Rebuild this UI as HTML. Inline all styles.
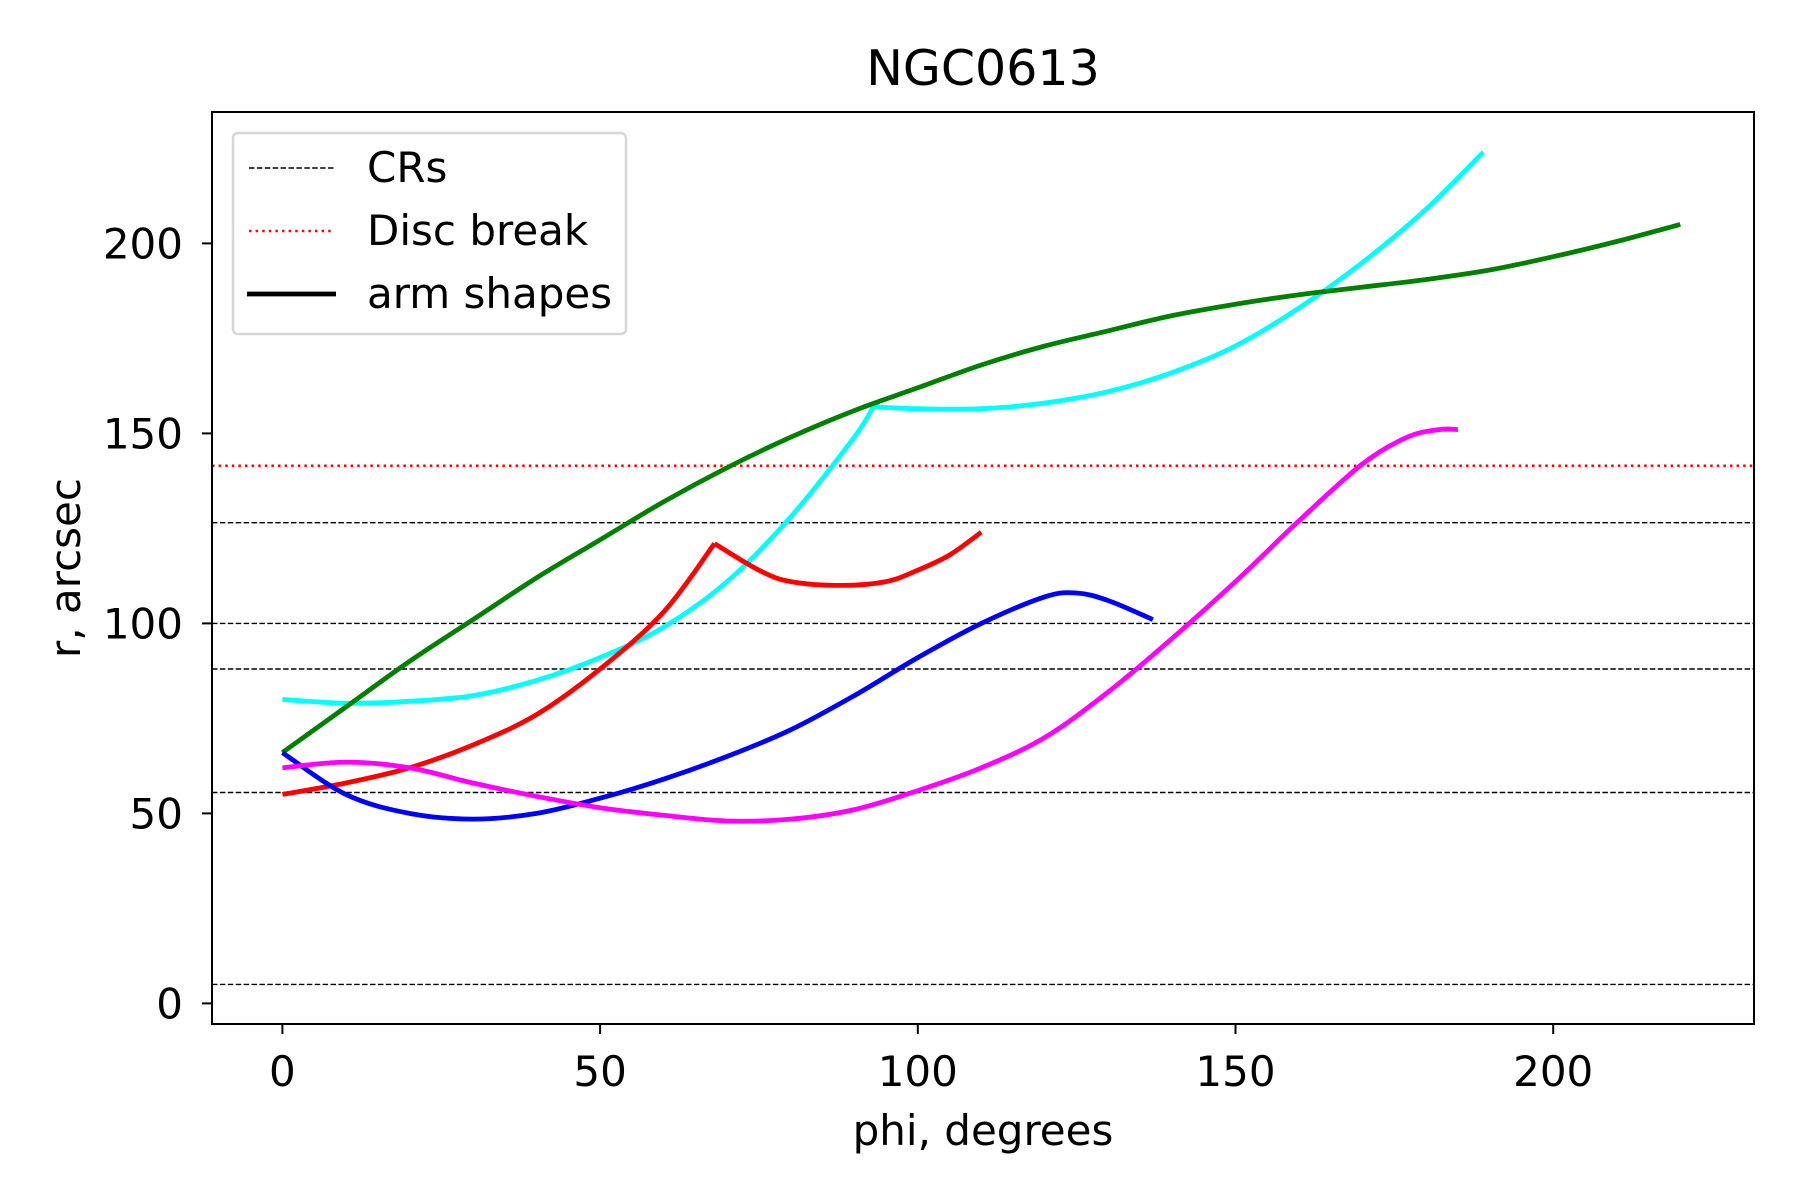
<!DOCTYPE html>
<html><head><meta charset="utf-8"><style>
body{margin:0;background:#fff;}
svg text{font-family:"DejaVu Sans","Liberation Sans",sans-serif;fill:#000;}
</style></head><body>
<svg id="chart" width="1800" height="1200" viewBox="0 0 1800 1200" style="position:absolute;left:0;top:0">
<rect width="1800" height="1200" fill="#fff"/>
<g id="plot"></g>
</svg>
<script>
const crValues=[126.5,100,88,55.5,5];
const discBreak=[141.5];
const cyanPhi=[0,10,20,30,40,50,60,70,80,90,93,100,110,120,130,140,150,160,170,180,189];
const cyanR=[80,79,79.5,81,85,91,99,111,128,149,157,156.5,156.5,158,161,166,173,183,195,209,224];
const greenPhi=[0,10,20,30,40,50,60,70,80,90,100,110,120,130,140,150,160,170,180,190,200,210,220];
const greenR=[66,78,90,101,112,122,132,141,149,156,162,168,173,177,181,184,186.5,188.5,190.5,193,196.5,200.5,205];
const redPhi=[0,10,20,30,40,50,60,68,75,80,88,95,100,105,110];
const redR=[55,58,62,68,76,88,103,121,114,111,110,111,114,118,124];
const bluePhi=[0,10,20,30,40,50,60,70,80,90,100,110,120,125,130,137];
const blueR=[66,55,50,48.5,50,54,59,65,72,81,91,100,107,108,106,101];
const magPhi=[0,10,20,30,40,50,60,70,80,90,100,110,120,130,140,150,160,170,177,182,185];
const magR=[62,63.5,62,58,54.5,51.5,49.5,48,48.5,51,56,62,70,82,96,111,127,142,149,151,151];
const xTicks=[0,50,100,150,200];
const yTicks=[0,50,100,150,200];

const L=212,R=1754,T=112,B=1024;
const X=v=>282.4+v*6.354;
const Y=v=>1003.4-v*3.80;
const ns='http://www.w3.org/2000/svg';
const g=document.getElementById('plot');
function el(t,a,p){const e=document.createElementNS(ns,t);for(const k in a)e.setAttribute(k,a[k]);(p||g).appendChild(e);return e;}

const clip=el('clipPath',{id:'cp'});el('rect',{x:L,y:T,width:R-L,height:B-T},clip);

crValues.forEach(v=>{const l=el('line',{x1:L,x2:R,y1:Y(v),y2:Y(v),stroke:'#000','stroke-width':1.4,'stroke-dasharray':'5.5,2.4'});

});
discBreak.forEach(v=>{const l=el('line',{x1:L,x2:R,y1:Y(v),y2:Y(v),stroke:'#f00','stroke-width':2.5,'stroke-dasharray':'2.5,4.1'});

});

function smoothPath(pts){
 let d='M'+pts[0][0].toFixed(1)+','+pts[0][1].toFixed(1);
 for(let i=0;i<pts.length-1;i++){
  const p0=pts[Math.max(0,i-1)],p1=pts[i],p2=pts[i+1],p3=pts[Math.min(pts.length-1,i+2)];
  const c1=[p1[0]+(p2[0]-p0[0])/6,p1[1]+(p2[1]-p0[1])/6];
  const c2=[p2[0]-(p3[0]-p1[0])/6,p2[1]-(p3[1]-p1[1])/6];
  d+=' C'+c1[0].toFixed(1)+','+c1[1].toFixed(1)+' '+c2[0].toFixed(1)+','+c2[1].toFixed(1)+' '+p2[0].toFixed(1)+','+p2[1].toFixed(1);
 }
 return d;
}
function curve(px,py,color,name,breaks){
 const pts=px.map((p,i)=>[X(p),Y(py[i])]);
 const cuts=[0].concat(breaks||[]).concat([pts.length-1]);
 let d='';
 for(let k=0;k<cuts.length-1;k++)d+=smoothPath(pts.slice(cuts[k],cuts[k+1]+1))+' ';
 const e=el('path',{d:d,fill:'none',stroke:color,'stroke-width':4.8,'stroke-linejoin':'round','clip-path':'url(#cp)'});
 
 
}
curve(cyanPhi,cyanR,'#00ffff','arm-cyan',[10]);
curve(greenPhi,greenR,'#008000','arm-green');
curve(redPhi,redR,'#ff0000','arm-red',[7]);
curve(bluePhi,blueR,'#0000ff','arm-blue');
curve(magPhi,magR,'#ff00ff','arm-magenta');

const fr=el('rect',{x:L,y:T,width:R-L,height:B-T,fill:'none',stroke:'#000','stroke-width':2});



xTicks.forEach(v=>{el('line',{x1:X(v),x2:X(v),y1:B,y2:B+10,stroke:'#000','stroke-width':2});
 const t=el('text',{x:X(v),y:B+62,'font-size':42,'text-anchor':'middle'});t.textContent=v;
 
 });
yTicks.forEach(v=>{el('line',{x1:L-10,x2:L,y1:Y(v),y2:Y(v),stroke:'#000','stroke-width':2});
 const t=el('text',{x:L-29,y:Y(v)+15,'font-size':42,'text-anchor':'end'});t.textContent=v;
 
 });
</script>
<svg width="1800" height="1200" style="position:absolute;left:0;top:0">
<text x="983" y="85" font-size="49" text-anchor="middle">NGC0613</text>
<text x="983" y="1145" font-size="42" text-anchor="middle">phi, degrees</text>
<text transform="translate(80,568) rotate(-90)" font-size="42" text-anchor="middle">r, arcsec</text>
<g>
<rect x="233" y="133" width="393" height="201" rx="5" fill="#fff" fill-opacity="0.8" stroke="#d6d6d6" stroke-width="2.5"/>
<line x1="249" x2="334" y1="168" y2="168" stroke="#000" stroke-width="1.4" stroke-dasharray="5.5,2.4"/>
<text x="367" y="182" font-size="42">CRs</text>
<line x1="249" x2="334" y1="231" y2="231" stroke="#f00" stroke-width="2.5" stroke-dasharray="2.5,4.1"/>
<text x="367" y="245" font-size="42">Disc break</text>
<line x1="247" x2="336" y1="294" y2="294" stroke="#000" stroke-width="4.8"/>
<text x="367" y="308" font-size="42">arm shapes</text>
</g>
</svg>
</body></html>
